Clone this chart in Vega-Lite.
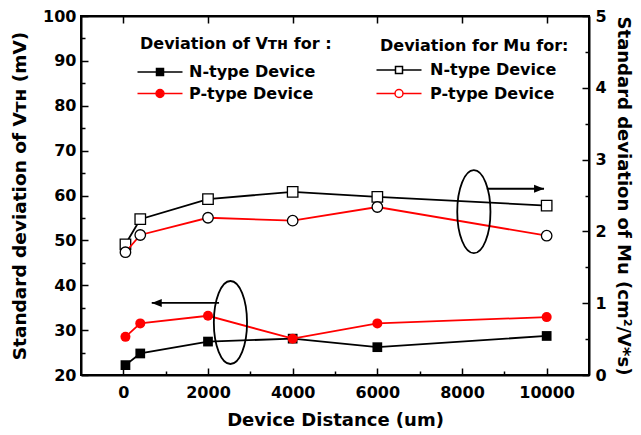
{
  "$schema": "https://vega.github.io/schema/vega-lite/v6.json",
  "width": 508,
  "height": 359,
  "autosize": "none",
  "padding": {"left": 81, "top": 16, "right": 52, "bottom": 60},
  "background": "white",
  "config": {
    "font": "DejaVu Sans",
    "view": {"stroke": "black", "strokeWidth": 2},
    "axis": {
      "grid": false,
      "domainColor": "black",
      "domainWidth": 2,
      "tickColor": "black",
      "tickWidth": 1.5,
      "labelFont": "DejaVu Sans",
      "labelFontWeight": "bold",
      "labelFontSize": 16,
      "labelColor": "black",
      "titleFont": "DejaVu Sans",
      "titleFontWeight": "bold",
      "titleFontSize": 18,
      "titleColor": "black"
    },
    "legend": {
      "padding": 0,
      "titleLimit": 400,
      "labelLimit": 400,
      "titleFont": "DejaVu Sans",
      "titleFontWeight": "bold",
      "titleFontSize": 16,
      "titleColor": "black",
      "labelFont": "DejaVu Sans",
      "labelFontWeight": "bold",
      "labelFontSize": 16,
      "labelColor": "black",
      "symbolSize": 100,
      "symbolStrokeWidth": 1.5,
      "symbolOpacity": 1
    }
  },
  "datasets": {
    "vth": [
      {"distance": 50, "type": "N-type Device", "value": 22.2},
      {"distance": 400, "type": "N-type Device", "value": 24.8},
      {"distance": 2000, "type": "N-type Device", "value": 27.45},
      {"distance": 4000, "type": "N-type Device", "value": 28.1},
      {"distance": 6000, "type": "N-type Device", "value": 26.2},
      {"distance": 10000, "type": "N-type Device", "value": 28.7},
      {"distance": 50, "type": "P-type Device", "value": 28.5},
      {"distance": 400, "type": "P-type Device", "value": 31.5},
      {"distance": 2000, "type": "P-type Device", "value": 33.2},
      {"distance": 4000, "type": "P-type Device", "value": 28.1},
      {"distance": 6000, "type": "P-type Device", "value": 31.5},
      {"distance": 10000, "type": "P-type Device", "value": 32.9}
    ],
    "mu": [
      {"distance": 50, "type": "N-type Device", "value": 1.82},
      {"distance": 400, "type": "N-type Device", "value": 2.17},
      {"distance": 2000, "type": "N-type Device", "value": 2.45},
      {"distance": 4000, "type": "N-type Device", "value": 2.55},
      {"distance": 6000, "type": "N-type Device", "value": 2.48},
      {"distance": 10000, "type": "N-type Device", "value": 2.36},
      {"distance": 50, "type": "P-type Device", "value": 1.71},
      {"distance": 400, "type": "P-type Device", "value": 1.95},
      {"distance": 2000, "type": "P-type Device", "value": 2.19},
      {"distance": 4000, "type": "P-type Device", "value": 2.15},
      {"distance": 6000, "type": "P-type Device", "value": 2.34},
      {"distance": 10000, "type": "P-type Device", "value": 1.94}
    ],
    "ellipses": [
      {"x": 2530, "y": 31.7},
      {"x": 8280, "y": 56.4}
    ],
    "arrows": [
      {"tail": 2261, "tip": 671, "y": 36.06, "dir": "left"},
      {"tail": 8584, "tip": 9938, "y": 61.5, "dir": "right"}
    ]
  },
  "layer": [
    {
      "data": {"name": "vth"},
      "encoding": {
        "x": {
          "field": "distance", "type": "quantitative",
          "scale": {"domain": [-1000, 11000], "nice": false, "zero": false},
          "axis": {
            "orient": "bottom",
            "title": "Device Distance (um)",
            "values": [0, 2000, 4000, 6000, 8000, 10000],
            "format": "d",
            "tickSize": -7,
            "labelPadding": 16,
            "titlePadding": 11
          }
        },
        "y": {
          "field": "value", "type": "quantitative",
          "scale": {"domain": [20, 100], "nice": false, "zero": false},
          "axis": {
            "orient": "left",
            "title": "Standard deviation of Vᴛʜ (mV)",
            "titleFontSize": 18.5,
            "values": [20, 30, 40, 50, 60, 70, 80, 90, 100],
            "tickSize": -7,
            "labelPadding": 12,
            "titlePadding": 13
          }
        }
      },
      "layer": [
        {
          "transform": [{"filter": "datum.type === 'N-type Device'"}],
          "mark": {"type": "line", "color": "black", "strokeWidth": 1.8,
                   "point": {"shape": "square", "filled": true, "color": "black", "size": 95, "opacity": 1}}
        },
        {
          "transform": [{"filter": "datum.type === 'P-type Device'"}],
          "mark": {"type": "line", "color": "red", "strokeWidth": 1.8,
                   "point": {"shape": "circle", "filled": true, "color": "red", "size": 100, "opacity": 1}}
        },
        {
          "mark": {"type": "point", "filled": true, "opacity": 0},
          "encoding": {
            "fill": {
              "field": "type", "type": "nominal",
              "scale": {"domain": ["N-type Device", "P-type Device"], "range": ["black", "red"]},
              "legend": {
                "title": "Deviation of Vᴛʜ for :",
                "orient": "none",
                "legendX": 59,
                "legendY": 20,
                "titlePadding": 12,
                "rowPadding": 5.5,
                "symbolOffset": 12,
                "labelOffset": 21
              }
            },
            "stroke": {
              "field": "type", "type": "nominal",
              "scale": {"domain": ["N-type Device", "P-type Device"], "range": ["black", "red"]},
              "legend": {"title": "Deviation of Vᴛʜ for :"}
            },
            "shape": {
              "field": "type", "type": "nominal",
              "scale": {"domain": ["N-type Device", "P-type Device"], "range": [
                "M-4.5,0L-0.7,0M0.7,0L4.5,0M-0.7,-0.7L0.7,-0.7L0.7,0.7L-0.7,0.7Z",
                "M-4.5,0L-0.8,0M0.8,0L4.5,0M0.8,0C0.8,0.4418 0.4418,0.8 0,0.8C-0.4418,0.8 -0.8,0.4418 -0.8,0C-0.8,-0.4418 -0.4418,-0.8 0,-0.8C0.4418,-0.8 0.8,-0.4418 0.8,0Z"
              ]},
              "legend": {"title": "Deviation of Vᴛʜ for :"}
            }
          }
        }
      ]
    },
    {
      "data": {"name": "mu"},
      "encoding": {
        "x": {
          "field": "distance", "type": "quantitative",
          "scale": {"domain": [-1000, 11000], "nice": false, "zero": false},
          "axis": {
            "orient": "top",
            "title": null,
            "labels": false,
            "values": [0, 2000, 4000, 6000, 8000, 10000],
            "tickSize": -7
          }
        },
        "y": {
          "field": "value", "type": "quantitative",
          "scale": {"domain": [0, 5], "nice": false, "zero": false},
          "axis": {
            "orient": "right",
            "title": "Standard deviation of Mu (cm²/V*s)",
            "titleFontSize": 18,
            "values": [0, 1, 2, 3, 4, 5],
            "tickSize": -7,
            "labelPadding": 13,
            "titlePadding": 7
          }
        }
      },
      "layer": [
        {
          "transform": [{"filter": "datum.type === 'N-type Device'"}],
          "mark": {"type": "line", "color": "black", "strokeWidth": 1.8,
                   "point": {"shape": "square", "filled": false, "fill": "white", "fillOpacity": 1, "stroke": "black", "strokeWidth": 1.3, "size": 110, "opacity": 1}}
        },
        {
          "transform": [{"filter": "datum.type === 'P-type Device'"}],
          "mark": {"type": "line", "color": "red", "strokeWidth": 1.8,
                   "point": {"shape": "circle", "filled": false, "fill": "white", "fillOpacity": 1, "stroke": "black", "strokeWidth": 1.3, "size": 110, "opacity": 1}}
        },
        {
          "mark": {"type": "point", "filled": false, "fill": "white", "opacity": 0},
          "encoding": {
            "stroke": {
              "field": "type", "type": "nominal",
              "scale": {"domain": ["N-type Device", "P-type Device"], "range": ["black", "red"]},
              "legend": {
                "title": "Deviation for Mu for:",
                "orient": "none",
                "legendX": 299,
                "legendY": 22,
                "titlePadding": 8,
                "rowPadding": 7.5,
                "symbolOffset": 11,
                "labelOffset": 23,
                "symbolFillColor": "white"
              }
            },
            "shape": {
              "field": "type", "type": "nominal",
              "scale": {"domain": ["N-type Device", "P-type Device"], "range": [
                "M-4.5,0L-0.7,0M0.7,0L4.5,0M-0.7,-0.7L0.7,-0.7L0.7,0.7L-0.7,0.7Z",
                "M-4.5,0L-0.8,0M0.8,0L4.5,0M0.8,0C0.8,0.4418 0.4418,0.8 0,0.8C-0.4418,0.8 -0.8,0.4418 -0.8,0C-0.8,-0.4418 -0.4418,-0.8 0,-0.8C0.4418,-0.8 0.8,-0.4418 0.8,0Z"
              ]},
              "legend": {"title": "Deviation for Mu for:"}
            }
          }
        }
      ]
    },
    {
      "data": {"name": "ellipses"},
      "mark": {
        "type": "point",
        "shape": "M0.4,0C0.4,0.5523 0.2209,1 0,1C-0.2209,1 -0.4,0.5523 -0.4,0C-0.4,-0.5523 -0.2209,-1 0,-1C0.2209,-1 0.4,-0.5523 0.4,0Z",
        "size": 6889,
        "filled": false,
        "stroke": "black",
        "strokeWidth": 1.8,
        "opacity": 1
      },
      "encoding": {
        "x": {
          "field": "x", "type": "quantitative",
          "scale": {"domain": [-1000, 11000], "nice": false, "zero": false},
          "axis": {
            "orient": "bottom",
            "title": null,
            "labels": false,
            "domain": false,
            "values": [1000, 3000, 5000, 7000, 9000],
            "tickSize": -4
          }
        },
        "y": {
          "field": "y", "type": "quantitative",
          "scale": {"domain": [20, 100], "nice": false, "zero": false},
          "axis": {
            "orient": "left",
            "title": null,
            "labels": false,
            "domain": false,
            "values": [25, 35, 45, 55, 65, 75, 85, 95],
            "tickSize": -4
          }
        }
      }
    },
    {
      "data": {"name": "arrows"},
      "encoding": {
        "y": {
          "field": "y", "type": "quantitative",
          "scale": {"domain": [20, 100], "nice": false, "zero": false},
          "axis": {
            "orient": "right",
            "title": null,
            "labels": false,
            "domain": false,
            "values": [28, 44, 60, 76, 92],
            "tickSize": -4
          }
        }
      },
      "layer": [
        {
          "mark": {"type": "rule", "color": "black", "strokeWidth": 1.8},
          "encoding": {
            "x": {"field": "tail", "type": "quantitative", "scale": {"domain": [-1000, 11000], "nice": false, "zero": false}, "axis": null},
            "x2": {"field": "tip"}
          }
        },
        {
          "mark": {"type": "point", "filled": true, "color": "black", "size": 100, "opacity": 1},
          "encoding": {
            "x": {"field": "tip", "type": "quantitative", "scale": {"domain": [-1000, 11000], "nice": false, "zero": false}, "axis": null},
            "shape": {
              "field": "dir", "type": "nominal",
              "scale": {"domain": ["left", "right"], "range": ["M0,0L2,-0.8L2,0.8Z", "M0,0L-2,-0.8L-2,0.8Z"]},
              "legend": null
            }
          }
        }
      ]
    }
  ],
  "resolve": {
    "scale": {"y": "independent", "fill": "independent", "stroke": "independent", "shape": "independent"},
    "axis": {"x": "independent", "y": "independent"}
  }
}
